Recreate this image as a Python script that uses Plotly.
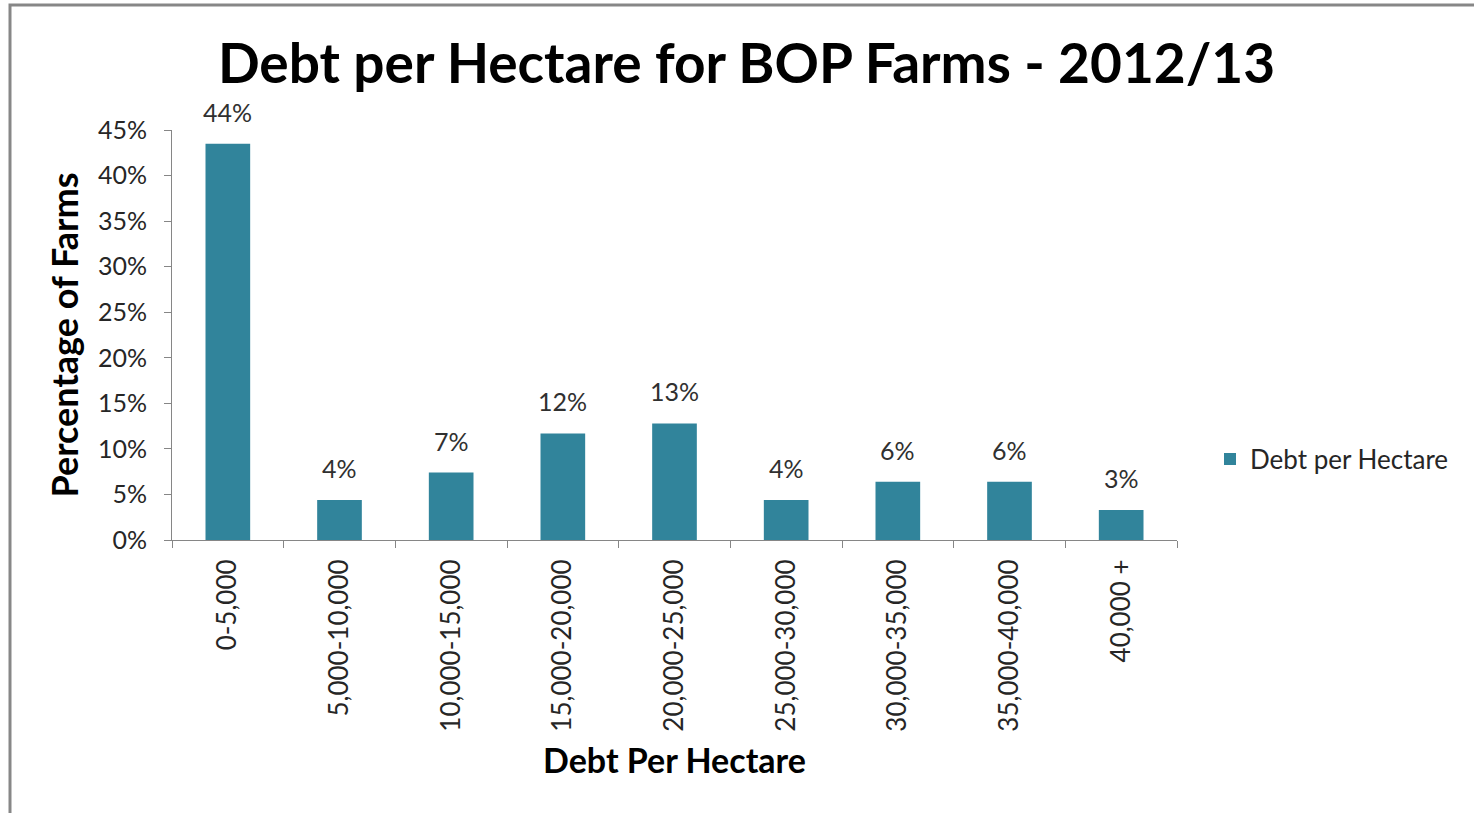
import plotly.graph_objects as go

categories = ["0-5,000", "5,000-10,000", "10,000-15,000", "15,000-20,000",
              "20,000-25,000", "25,000-30,000", "30,000-35,000", "35,000-40,000", "40,000 +"]
percent_of_farms = [43.5, 4.4, 7.4, 11.7, 12.8, 4.4, 6.4, 6.4, 3.3]
y_ticks = [0, 5, 10, 15, 20, 25, 30, 35, 40, 45]
y_tick_labels = [f"{v}%" for v in y_ticks]

W, H = 1474, 813
L, R, T, B = 172, 297, 130, 273
pw, ph = W - L - R, H - T - B

fig = go.Figure()
fig.add_trace(go.Bar(
    x=categories, y=percent_of_farms, name="Debt per Hectare",
    marker=dict(color="#31849B", line=dict(width=0)),
    width=0.4,
))

for c, v in zip(categories, percent_of_farms):
    fig.add_annotation(x=c, y=v, text=f"{round(v)}%", showarrow=False,
                       xanchor="center", yanchor="bottom", yshift=15,
                       font=dict(family="Lato", size=25, color="#303030"))

def px_x(p):
    return (p - L) / pw

def px_y(p):
    return (H - B - p) / ph

fig.update_layout(
    width=W, height=H,
    margin=dict(l=L, r=R, t=T, b=B),
    paper_bgcolor="white", plot_bgcolor="white",
    title=dict(text="<b>Debt per Hectare for BOP Farms - 2012/13</b>",
               font=dict(family="Lato", size=55, color="black"),
               x=(220 + 1273) / 2 / W, xanchor="center", y=1 - 64 / H, yanchor="middle"),
    showlegend=True,
    legend=dict(x=px_x(1210), y=px_y(459), xanchor="left", yanchor="middle",
                font=dict(family="Lato", size=26, color="#262626"),
                itemwidth=30, bgcolor="rgba(0,0,0,0)"),
    xaxis=dict(
        type="category", showline=True, linecolor="#868686", linewidth=1,
        ticks="outside", tickson="boundaries", ticklen=7, tickcolor="#868686",
        tickangle=-90, ticklabelstandoff=8,
        tickfont=dict(family="Lato", size=26, color="#262626"),
        title=dict(text="<b>Debt Per Hectare</b>", font=dict(family="Lato", size=34, color="black"),
                   standoff=18),
        showgrid=False, zeroline=False,
    ),
    yaxis=dict(
        range=[0, 45], tickvals=y_ticks, ticktext=y_tick_labels,
        showline=True, linecolor="#868686", linewidth=1,
        ticks="outside", ticklen=7, tickcolor="#868686", ticklabelstandoff=12,
        tickfont=dict(family="Lato", size=25, color="#262626"),
        title=dict(text="<b>Percentage of Farms</b>", font=dict(family="Lato", size=36, color="black"),
                   standoff=8),
        showgrid=False, zeroline=False,
    ),
    shapes=[dict(type="rect", xref="paper", yref="paper",
                 x0=px_x(10), x1=px_x(W + 20), y0=px_y(H + 20), y1=px_y(5),
                 line=dict(color="#878787", width=3), layer="below")],
)

fig.write_html("out.html")
